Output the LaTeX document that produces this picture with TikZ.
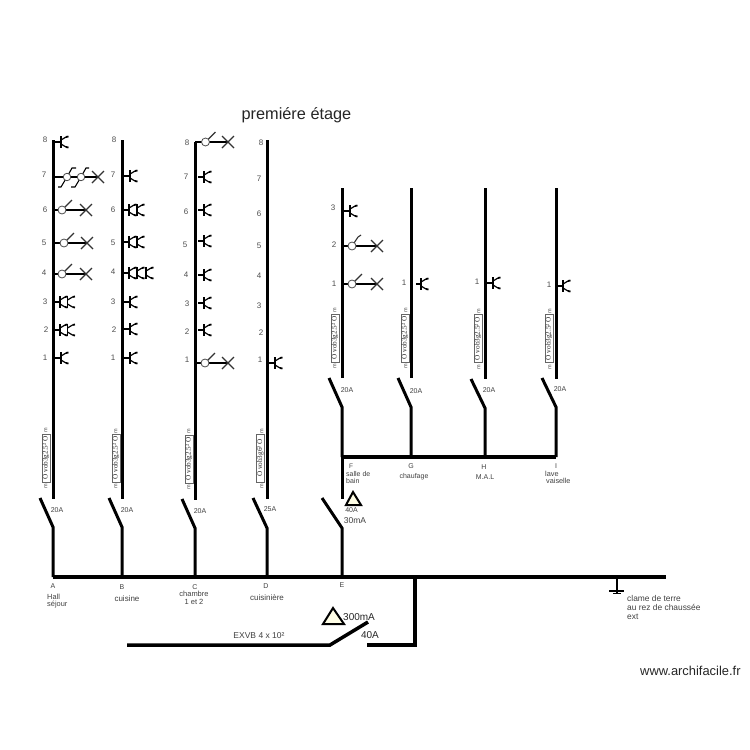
\documentclass[tikz,border=0pt]{standalone}
\usepackage{fontspec}
\setmainfont{Liberation Sans}
\newfontfamily\gainefont{Liberation Serif}

\tikzset{
  riser/.style={line width=3pt},
  blade/.style={line width=3pt},
  bus/.style={line width=4.5pt},
  fin/.style={line width=1.1pt},
  fil/.style={line width=2.8pt},
  num/.style={text=black!70,font=\fontsize{8}{8}\selectfont,inner sep=0pt},
  lbl/.style={text=black!75,font=\fontsize{7}{8}\selectfont,inner sep=0pt},
  amp/.style={text=black!75,font=\fontsize{7}{7.5}\selectfont,inner sep=0pt},
  gaine/.style={draw=black!60,line width=.5pt,rotate=90,minimum width=48pt,inner xsep=0pt,inner ysep=.6pt,
    text=black!85,font=\gainefont\fontsize{7.2}{7.5}\selectfont},
  metre/.style={rotate=90,inner sep=0pt,text=black!70,font=\fontsize{5.5}{6}\selectfont},
  diff/.style={draw,line width=2pt,line join=miter,fill=yellow!10},
  prise/.pic={
    \draw[line width=1.6pt] (0,-6) -- (0,6);
    \draw[line width=1.2pt] (0,-2) -- (5,-5);
    \draw[line width=1.8pt] (5,-5) -- (7.5,-5.5);
    \draw[line width=1.2pt] (0,2) -- (5,5);
    \draw[line width=1.8pt] (5,5) -- (7.5,5.5);
  },
  croix/.pic={
    \draw[fin,black!80] (-6,-6) -- (6,6);
    \draw[fin,black!80] (-6,6) -- (6,-6);
  }
}

% stem start, bar, y
\newcommand{\prisefil}[3]{
  \draw[fin] (#1,#3) -- (#2,#3);
  \pic at (#2,#3) {prise};
}
% riser, lamp, cross, y
\newcommand{\allumage}[4]{
  \draw[fil] (#1,#4) -- (#3,#4);
  \draw[fin,black!80] (#2,#4) -- ++(10,-10);
  \node[draw=black!70,fill=white,circle,line width=.8pt,minimum size=8pt,inner sep=0pt] at (#2,#4) {};
  \pic at (#3,#4) {croix};
}

\begin{document}
\begin{tikzpicture}[x=1pt,y=-1pt]
\useasboundingbox (0,0) rectangle (750,750);

\node[inner sep=0pt,text=black!85,font=\fontsize{16.3}{17}\selectfont] at (296.5,115) (titre) {premiére étage};

%main bus
\coordinate (abus) at (53,577);
\coordinate (bbus) at (122,577);
\coordinate (cbus) at (195,577);
\coordinate (dbus) at (267,577);
\coordinate (ebus) at (342,577);
\coordinate (gbus) at (415,577);
\coordinate (tbus) at (617,577);
\coordinate (busend) at (666,577);
\draw[bus] (abus) -- (busend);

%circuits A to D
\coordinate (atop) at (53,140);
\coordinate (abot) at (53,499);
\coordinate (aopen) at (40,498);
\coordinate (ahinge) at (53,527);
\coordinate (btop) at (122,140);
\coordinate (bbot) at (122,499);
\coordinate (bopen) at (109,498);
\coordinate (bhinge) at (122,527);
\coordinate (ctop) at (195,142);
\coordinate (cbot) at (195,500);
\coordinate (copen) at (182,499);
\coordinate (chinge) at (195,528);
\coordinate (dtop) at (267,140);
\coordinate (dbot) at (267,499);
\coordinate (dopen) at (253,498);
\coordinate (dhinge) at (267,528);

\draw[riser] (atop) -- (abot);
\draw[blade] (aopen) -- (ahinge) -- (abus);
\draw[riser] (btop) -- (bbot);
\draw[blade] (bopen) -- (bhinge) -- (bbus);
\draw[riser] (ctop) -- (cbot);
\draw[blade] (copen) -- (chinge) -- (cbus);
\draw[riser] (dtop) -- (dbot);
\draw[blade] (dopen) -- (dhinge) -- (dbus);

%circuit E and the board F to I
\coordinate (etop) at (342,457);
\coordinate (ebot) at (342,499);
\coordinate (eopen) at (322,498);
\coordinate (ehinge) at (342,528);
\coordinate (fbar) at (342,457);
\coordinate (gbar) at (411,457);
\coordinate (hbar) at (485,457);
\coordinate (ibar) at (556,457);
\coordinate (ftop) at (342,188);
\coordinate (fbot) at (342,378);
\coordinate (fopen) at (329,378);
\coordinate (fhinge) at (342,407);
\coordinate (gtop) at (411,188);
\coordinate (gbot) at (411,378);
\coordinate (gopen) at (398,378);
\coordinate (ghinge) at (411,407);
\coordinate (htop) at (485,188);
\coordinate (hbot) at (485,379);
\coordinate (hopen) at (471,379);
\coordinate (hhinge) at (485,408);
\coordinate (itop) at (556,188);
\coordinate (ibot) at (556,379);
\coordinate (iopen) at (542,378);
\coordinate (ihinge) at (556,407);

\draw[riser] (etop) -- (ebot);
\draw[blade] (eopen) -- (ehinge) -- (ebus);
\draw[riser] (ftop) -- (fbot);
\draw[blade] (fopen) -- (fhinge) -- (fbar);
\draw[riser] (gtop) -- (gbot);
\draw[blade] (gopen) -- (ghinge) -- (gbar);
\draw[riser] (htop) -- (hbot);
\draw[blade] (hopen) -- (hhinge) -- (hbar);
\draw[riser] (itop) -- (ibot);
\draw[blade] (iopen) -- (ihinge) -- (ibar);
\draw[line width=4pt] (fbar) -- (ibar);

%general switch
\coordinate (gcorner) at (415,645);
\coordinate (gopenr) at (367,645);
\coordinate (gfree) at (368,622);
\coordinate (ghingel) at (330,645);
\coordinate (gleft) at (127,645);
\draw[line width=3.5pt] (gbus) -- (gcorner) -- (gopenr);
\draw[line width=3.5pt] (gleft) -- (ghingel) -- (gfree);

%earth
\coordinate (tfoot) at (617,594);
\coordinate (tl1) at (609,591);
\coordinate (tr1) at (624,591);
\coordinate (tl2) at (613,593.5);
\coordinate (tr2) at (621,593.5);
\draw[fin] (tbus) -- (tfoot);
\draw[fin] (tl1) -- (tr1);
\draw[fin] (tl2) -- (tr2);

%differentials
\coordinate (ea) at (353,492);
\coordinate (eb) at (361,505);
\coordinate (ec) at (346,505);
\draw[diff] (ea) -- (eb) -- (ec) -- cycle;
\coordinate (ta) at (333,608);
\coordinate (tb) at (344,624);
\coordinate (tc) at (323,624);
\draw[diff] (ta) -- (tb) -- (tc) -- cycle;

%sockets circuit A
\prisefil{53}{61}{142}
\prisefil{53}{60}{302}
\pic at (67.5,302) {prise};
\prisefil{53}{60}{330}
\pic at (67.5,330) {prise};
\prisefil{53}{61}{358}
\allumage{53}{62}{86}{210}
\allumage{53}{64}{87}{243}
\allumage{53}{62}{86}{274}

%two way lights 7
\draw[fil] (53,177) -- (97,177);
\draw[fin] (58,187) -- (61,187) -- (67,177) -- (72,168) -- (76,168);
\draw[fin] (71,187) -- (75,187) -- (81,177) -- (86,168) -- (89,168);
\node[draw=black!70,fill=white,circle,line width=.8pt,minimum size=7.5pt,inner sep=0pt] at (67,177) (lamp1) {};
\node[draw=black!70,fill=white,circle,line width=.8pt,minimum size=7.5pt,inner sep=0pt] at (81,177) (lamp2) {};
\pic at (98,177) {croix};

%sockets circuit B
\prisefil{122}{130}{176}
\prisefil{122}{129}{210}
\pic at (137,210) {prise};
\prisefil{122}{129}{242}
\pic at (137,242) {prise};
\prisefil{122}{129}{273}
\pic at (137,273) {prise};
\pic at (146,273) {prise};
\prisefil{122}{130}{302}
\prisefil{122}{130}{329}
\prisefil{122}{130}{358}

%sockets circuit C
\allumage{195}{205.5}{228}{142}
\prisefil{198}{204}{177}
\prisefil{198}{204}{210}
\prisefil{198}{204}{241}
\prisefil{198}{204}{275}
\prisefil{198}{204}{303}
\prisefil{198}{204}{330}
\allumage{195}{205}{228}{363}

%sockets others
\prisefil{269}{275}{363}
\prisefil{342}{350}{211}
\allumage{342}{352}{377}{284}
\draw[fil] (342,246) -- (377,246);
\draw[fin,black!80] (352,246) -- (358,237) -- (361,235);
\node[draw=black!70,fill=white,circle,line width=.8pt,minimum size=8pt,inner sep=0pt] at (352,246) (lampf) {};
\pic at (377,246) {croix};
\prisefil{416}{421}{284}
\prisefil{487}{493}{283}
\prisefil{557}{563}{286}

%numbers A
\node[num] at (45,140) (na8) {8};
\node[num] at (44,175) (na7) {7};
\node[num] at (45,210) (na6) {6};
\node[num] at (44,243) (na5) {5};
\node[num] at (44,273) (na4) {4};
\node[num] at (45,302) (na3) {3};
\node[num] at (46,330) (na2) {2};
\node[num] at (45,358) (na1) {1};
%numbers B
\node[num] at (114,140) (nb8) {8};
\node[num] at (113,175) (nb7) {7};
\node[num] at (113,210) (nb6) {6};
\node[num] at (113,243) (nb5) {5};
\node[num] at (113,272) (nb4) {4};
\node[num] at (113,302) (nb3) {3};
\node[num] at (114,330) (nb2) {2};
\node[num] at (113,358) (nb1) {1};
%numbers C
\node[num] at (187,143) (nc8) {8};
\node[num] at (186,177) (nc7) {7};
\node[num] at (186,212) (nc6) {6};
\node[num] at (185,245) (nc5) {5};
\node[num] at (186,275) (nc4) {4};
\node[num] at (187,304) (nc3) {3};
\node[num] at (187,332) (nc2) {2};
\node[num] at (187,360) (nc1) {1};
%numbers D
\node[num] at (261,143) (nd8) {8};
\node[num] at (259,179) (nd7) {7};
\node[num] at (259,214) (nd6) {6};
\node[num] at (259,246) (nd5) {5};
\node[num] at (259,276) (nd4) {4};
\node[num] at (259,306) (nd3) {3};
\node[num] at (261,333) (nd2) {2};
\node[num] at (260,360) (nd1) {1};
%numbers F to I
\node[num] at (333,208) (nf3) {3};
\node[num] at (334,245) (nf2) {2};
\node[num] at (334,284) (nf1) {1};
\node[num] at (404,283) (ng1) {1};
\node[num] at (477,282) (nh1) {1};
\node[num] at (549,285) (ni1) {1};

%cable labels
\node[gaine] at (46,458) (ca) {O vob3g2.5² O};
\node[metre] at (46,430.5) (ca1) {m};
\node[metre] at (46,486) (ca2) {m};
\node[gaine] at (116,458) (cb) {O vob3g2.5² O};
\node[metre] at (116,431) (cb1) {m};
\node[metre] at (116,486) (cb2) {m};
\node[gaine] at (189,459) (cc) {O vob3g2.5² O};
\node[metre] at (189,431) (cc1) {m};
\node[metre] at (189,487) (cc2) {m};
\node[gaine] at (260.5,458) (cd) {O vob3g6² O};
\node[metre] at (262,431) (cd1) {m};
\node[metre] at (262,486) (cd2) {m};
\node[gaine] at (335,338) (cf) {O vob3g2.5² O};
\node[metre] at (335,310) (cf1) {m};
\node[metre] at (335,366) (cf2) {m};
\node[gaine] at (405,338) (cg) {O vob3g2.5² O};
\node[metre] at (406,310) (cg1) {m};
\node[metre] at (406,366) (cg2) {m};
\node[gaine] at (478,338.5) (ch) {O vob3g2.5² O};
\node[metre] at (479,311) (ch1) {m};
\node[metre] at (479,367) (ch2) {m};
\node[gaine] at (549,338.5) (ci) {O vob3g2.5² O};
\node[metre] at (550,311) (ci1) {m};
\node[metre] at (550,367) (ci2) {m};

%breaker ratings
\node[amp] at (57,510) (ra) {20A};
\node[amp] at (127,510) (rb) {20A};
\node[amp] at (200,511) (rc) {20A};
\node[amp] at (270,509) (rd) {25A};
\node[amp] at (347,390) (rf) {20A};
\node[amp] at (416,391) (rg) {20A};
\node[amp] at (489,390) (rh) {20A};
\node[amp] at (560,389) (ri) {20A};
\node[amp] at (351.5,510) (re) {40A};
\node[lbl,font=\fontsize{8.5}{9}\selectfont] at (355,521) (re2) {30mA};
\node[lbl,font=\fontsize{10}{12}\selectfont,anchor=west,text=black!85] at (343,617) (gs1) {300mA};
\node[lbl,font=\fontsize{10}{12}\selectfont,text=black!85] at (370,635) (gs2) {40A};
\node[lbl,font=\fontsize{8.5}{9}\selectfont] at (259,636) (gs3) {EXVB 4 x 10²};

%circuit names
\node[amp] at (53,586) (la) {A};
\node[amp,anchor=west,align=left,font=\fontsize{7.4}{7.5}\selectfont] at (47,601) (la2) {Hall\\séjour};
\node[amp] at (122,587) (lb) {B};
\node[amp,font=\fontsize{8}{8}\selectfont] at (127,599) (lb2) {cuisine};
\node[amp] at (195,587) (lc) {C};
\node[amp,align=center,font=\fontsize{7.5}{8}\selectfont] at (194,598) (lc2) {chambre\\1 et 2};
\node[amp] at (266,586) (ld) {D};
\node[amp,font=\fontsize{8}{8}\selectfont] at (267,598) (ld2) {cuisinière};
\node[amp] at (342,585.5) (le) {E};
\node[amp,font=\fontsize{6.5}{7}\selectfont] at (351,466.5) (lf) {F};
\node[amp,anchor=west,align=left] at (346,477.5) (lf2) {salle de\\bain};
\node[amp] at (411,466) (lg) {G};
\node[amp] at (414,476.5) (lg2) {chaufage};
\node[amp] at (484,467) (lh) {H};
\node[amp] at (485,477) (lh2) {M.A.L};
\node[amp] at (556,466) (li) {I};
\node[amp,anchor=west,font=\fontsize{7.3}{8}\selectfont] at (545,473.5) (li2) {lave};
\node[amp,anchor=west,font=\fontsize{7.3}{8}\selectfont] at (546,480.5) (li3) {vaiselle};
\node[lbl,anchor=west,align=left,font=\fontsize{8.4}{9}\selectfont] at (627,607) (lt) {clame de terre\\au rez de chaussée\\ext};

\node[inner sep=0pt,anchor=west,text=black!85,font=\fontsize{12.9}{14}\selectfont] at (640,671) (site) {www.archifacile.fr};

\end{tikzpicture}
\end{document}
